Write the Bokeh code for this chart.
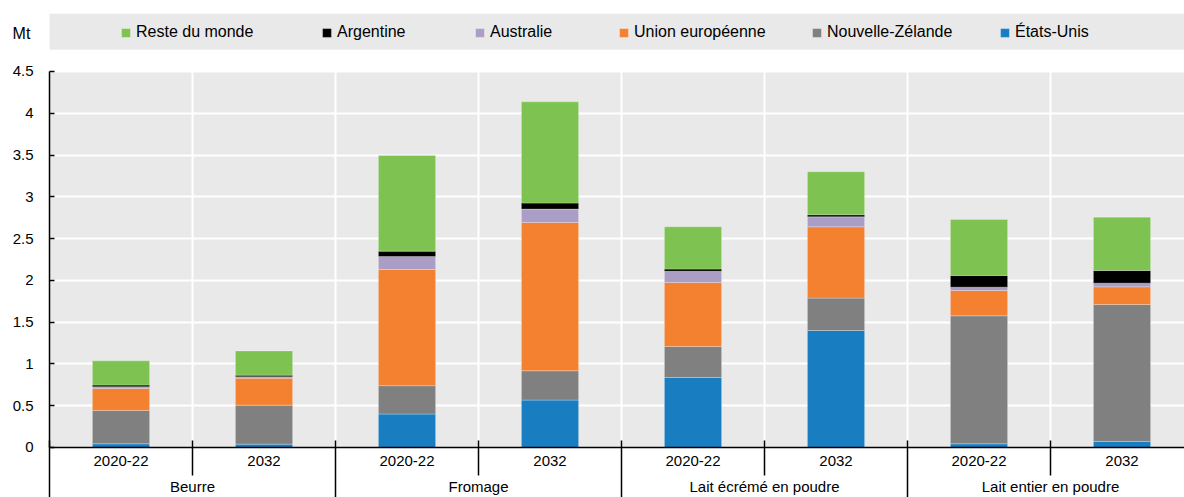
from bokeh.plotting import figure
from bokeh.models import (Range1d, LinearAxis, FixedTicker, BoxAnnotation, Legend,
                          LegendItem, Label, Grid, ColumnDataSource)
from bokeh.embed import file_html
from bokeh.resources import INLINE

# ---------------- data ----------------
products = ["Beurre", "Fromage", "Lait écrémé en poudre", "Lait entier en poudre"]
periods = ["2020-22", "2032"]
# stacking order, bottom to top
series = ["États-Unis", "Nouvelle-Zélande", "Union européenne", "Australie", "Argentine", "Reste du monde"]
colors = ["#187EC1", "#808080", "#F48130", "#AA9DC6", "#000000", "#7EC352"]

etats_unis       = [0.044, 0.040, 0.400, 0.567, 0.838, 1.400, 0.044, 0.072]
nouvelle_zelande = [0.400, 0.467, 0.340, 0.351, 0.371, 0.388, 1.532, 1.639]
union_europeenne = [0.263, 0.323, 1.390, 1.775, 0.766, 0.853, 0.303, 0.212]
australie        = [0.020, 0.016, 0.155, 0.160, 0.135, 0.120, 0.040, 0.044]
argentine        = [0.020, 0.020, 0.065, 0.072, 0.025, 0.024, 0.139, 0.151]
reste_du_monde   = [0.290, 0.290, 1.146, 1.212, 0.506, 0.515, 0.671, 0.639]

y_ticks = [0, 0.5, 1, 1.5, 2, 2.5, 3, 3.5, 4, 4.5]
y_max = 4.5
unit = "Mt"

FONT = "Liberation Sans"

n = len(products) * len(periods)
x_pos = [i + 0.5 for i in range(n)]
sub_labels = periods * len(products)
grp_pos = [len(periods) * i + len(periods) / 2 for i in range(len(products))]

source = ColumnDataSource(dict(
    x=x_pos,
    us=etats_unis, nz=nouvelle_zelande, eu=union_europeenne,
    au=australie, ar=argentine, rw=reste_du_monde,
))
keys = ["us", "nz", "eu", "au", "ar", "rw"]

p = figure(width=1184, height=497, output_backend="svg", toolbar_location=None,
           x_range=Range1d(-0.3427, 7.937), y_range=Range1d(-0.5984, 5.194),
           x_axis_type=None, y_axis_type=None,
           min_border_left=0, min_border_right=0, min_border_top=13, min_border_bottom=0)
p.outline_line_color = None
p.background_fill_color = "white"
p.border_fill_color = "white"

# gray plot background and legend band
p.add_layout(BoxAnnotation(left=0, bottom=0, top=y_max, fill_color="#E9E9E9", fill_alpha=1,
                           line_color=None, level="image"))
p.add_layout(BoxAnnotation(left=0, bottom=4.76, top=5.194, fill_color="#E9E9E9", fill_alpha=1,
                           line_color=None, level="image"))

# grids
p.add_layout(Grid(dimension=1, ticker=FixedTicker(ticks=y_ticks[1:]),
                  grid_line_color="white", grid_line_width=2, cross_bounds=(0, 8)))
p.add_layout(Grid(dimension=0, ticker=FixedTicker(ticks=list(range(1, n))),
                  grid_line_color="white", grid_line_width=2, cross_bounds=(0, y_max)))

# bars
renderers = p.vbar_stack(keys, x="x", width=0.4, color=colors, source=source,
                         line_color="white", line_alpha=0.25, line_width=1)

# y axis (drawn at x = 0 inside the frame)
yaxis = LinearAxis(ticker=FixedTicker(ticks=y_ticks), bounds=(0, y_max), fixed_location=0,
                   major_label_overrides={t: f"{t:g}" for t in y_ticks},
                   major_tick_in=5, major_tick_out=0, minor_tick_line_color=None,
                   axis_line_width=1.5, major_tick_line_width=1.5,
                   major_label_standoff=16, major_label_text_font=FONT,
                   major_label_text_font_size="15px", major_label_text_color="black")
p.add_layout(yaxis, "left")

# x axis: periods (drawn at y = 0 inside the frame)
xaxis1 = LinearAxis(ticker=FixedTicker(ticks=x_pos, minor_ticks=[1, 3, 5, 7]), bounds=(0, 8),
                    fixed_location=0,
                    major_label_overrides={x: s for x, s in zip(x_pos, sub_labels)},
                    major_tick_line_color=None, major_tick_in=0, major_tick_out=0,
                    minor_tick_in=7, minor_tick_out=28, minor_tick_line_color="black",
                    minor_tick_line_width=1.5, axis_line_width=1.5,
                    major_label_standoff=-19, major_label_text_font=FONT,
                    major_label_text_font_size="15px", major_label_text_color="black")
p.add_layout(xaxis1, "below")

# x axis: products (group labels and long separators)
xaxis2 = LinearAxis(ticker=FixedTicker(ticks=grp_pos, minor_ticks=[0, 2, 4, 6, 8]), bounds=(0, 8),
                    fixed_location=0,
                    major_label_overrides={x: s for x, s in zip(grp_pos, products)},
                    major_tick_line_color=None, major_tick_in=0, major_tick_out=0,
                    minor_tick_in=7, minor_tick_out=55, minor_tick_line_color="black",
                    minor_tick_line_width=1.5, axis_line_color=None,
                    major_label_standoff=-24, major_label_text_font=FONT,
                    major_label_text_font_size="15px", major_label_text_color="black")
p.add_layout(xaxis2, "below")

# legend: one entry per box, placed along the band
legend_x = [120, 321, 474, 618, 811, 999]
for lx, (name, r) in zip(legend_x, reversed(list(zip(series, renderers)))):
    lg = Legend(items=[LegendItem(label=name, renderers=[r])], orientation="horizontal",
                location=(lx, 456), padding=0, margin=0, glyph_width=11, glyph_height=11,
                label_standoff=5, background_fill_alpha=0, border_line_color=None,
                label_text_font=FONT, label_text_font_size="16px", label_text_color="black")
    p.add_layout(lg)

# unit label
p.add_layout(Label(x=-0.196, y=4.954, text=unit, text_align="center", text_baseline="middle",
                   text_font=FONT, text_font_size="16px", text_color="black"))

open("out.html", "w").write(file_html(p, INLINE))
